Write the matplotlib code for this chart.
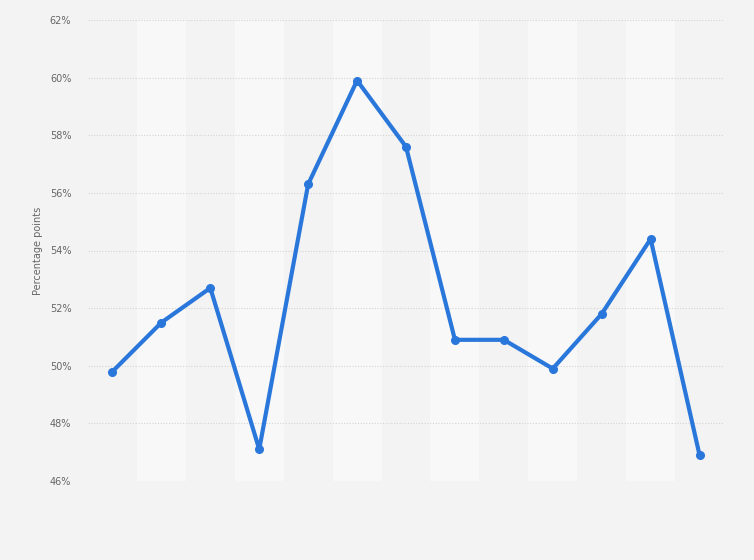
import matplotlib.pyplot as plt
import numpy as np

values = [49.8, 51.5, 52.7, 47.1, 56.3, 59.9, 57.6, 50.9, 50.9, 49.9, 51.8, 54.4, 46.9]
y_ticks = [46, 48, 50, 52, 54, 56, 58, 60, 62]

x = np.arange(len(values))

fig = plt.figure(figsize=(7.54, 5.6), dpi=100)
fig.patch.set_facecolor('#f3f3f3')
ax = fig.add_axes([88 / 754, 1 - 481 / 560, 636 / 754, 461 / 560])
ax.set_facecolor('#f3f3f3')

# alternating column shading
for i in x:
    if i % 2 == 1:
        ax.axvspan(i - 0.5, i + 0.5, color='#f8f8f8', zorder=0, lw=0)

for t in y_ticks:
    ax.axhline(t, color='#d4d4d4', lw=0.8, ls=(0, (1, 1.5)), zorder=1)

ax.plot(x, values, color='#2a77dc', lw=3, marker='o', markersize=5.5, zorder=3,
        solid_joinstyle='round')

ax.set_xlim(-0.5, len(values) - 0.5)
ax.set_ylim(46, 62)
ax.set_yticks(y_ticks)
ax.set_yticklabels([f'{t}%' for t in y_ticks], fontsize=7, color='#666666')
ax.set_xticks([])
ax.tick_params(axis='y', length=0, pad=12)
for s in ax.spines.values():
    s.set_visible(False)

ax.set_ylabel('Percentage points', fontsize=7, color='#666666', labelpad=5)

fig.savefig('out.png', dpi=100, facecolor=fig.get_facecolor())
